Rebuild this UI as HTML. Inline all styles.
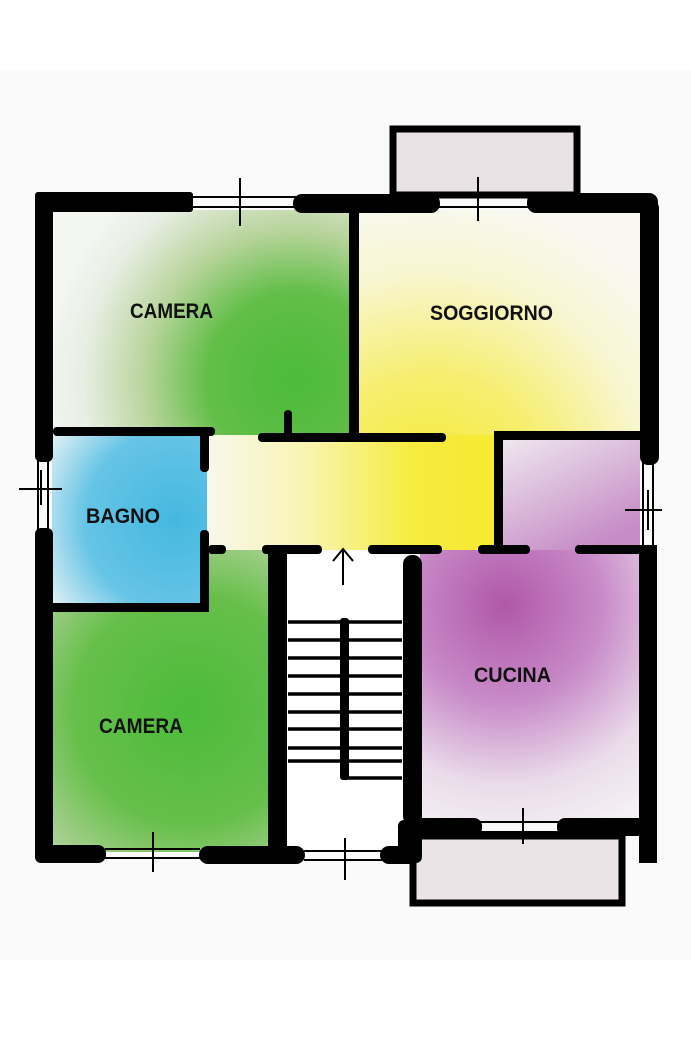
<!DOCTYPE html>
<html><head><meta charset="utf-8"><style>
html,body{margin:0;padding:0;background:#fff}
svg{display:block}
text{font-family:"Liberation Sans Narrow","Liberation Sans",sans-serif;font-weight:bold;font-size:21px;fill:#111}
</style></head><body>
<svg width="691" height="1037" viewBox="0 0 691 1037" xmlns="http://www.w3.org/2000/svg">
<defs>
<radialGradient id="g1" cx="295" cy="380" r="250" gradientUnits="userSpaceOnUse"><stop offset="0" stop-color="#4cbb3a"/><stop offset="0.35" stop-color="#62be48"/><stop offset="0.6" stop-color="#b8d49c"/><stop offset="0.85" stop-color="#e8eee4"/><stop offset="1" stop-color="#f4f6f2"/></radialGradient>
<radialGradient id="g2" cx="430" cy="490" r="290" gradientUnits="userSpaceOnUse"><stop offset="0" stop-color="#f5ea30"/><stop offset="0.4" stop-color="#f6ee70"/><stop offset="0.75" stop-color="#f8f6d0"/><stop offset="1" stop-color="#f8f8f0"/></radialGradient>
<radialGradient id="g3" cx="175" cy="520" r="150" gradientUnits="userSpaceOnUse"><stop offset="0" stop-color="#45b8e0"/><stop offset="0.6" stop-color="#66c4e6"/><stop offset="1" stop-color="#e4f2f4"/></radialGradient>
<radialGradient id="g4" cx="190" cy="710" r="230" gradientUnits="userSpaceOnUse"><stop offset="0" stop-color="#4cbb3a"/><stop offset="0.5" stop-color="#66bf4a"/><stop offset="0.8" stop-color="#a8d090"/><stop offset="1" stop-color="#dce8d4"/></radialGradient>
<radialGradient id="g5" cx="505" cy="605" r="240" gradientUnits="userSpaceOnUse"><stop offset="0" stop-color="#b058a8"/><stop offset="0.4" stop-color="#c88ac8"/><stop offset="0.75" stop-color="#eadcea"/><stop offset="1" stop-color="#f4f0f4"/></radialGradient>
<linearGradient id="g6" x1="0" y1="0" x2="0.6" y2="1"><stop offset="0" stop-color="#f0eaf0"/><stop offset="1" stop-color="#c68cc6"/></linearGradient>
<linearGradient id="g7" x1="0" y1="0" x2="1" y2="0"><stop offset="0" stop-color="#f8f8ee"/><stop offset="0.35" stop-color="#f8f4b0"/><stop offset="0.7" stop-color="#f6ec40"/><stop offset="1" stop-color="#f6e930"/></linearGradient>
</defs>
<rect x="0" y="70" width="691" height="890" fill="#fafafa"/>
<rect x="393" y="129" width="184" height="66" fill="#e8e2e4" stroke="#000" stroke-width="7"/>
<rect x="413" y="836" width="209" height="67" fill="#ebe4e6" stroke="#000" stroke-width="7"/>
<rect x="52" y="210" width="302" height="225" fill="url(#g1)"/>
<rect x="356" y="210" width="286" height="230" fill="url(#g2)"/>
<rect x="205" y="435" width="295" height="115" fill="url(#g7)"/>
<rect x="52" y="435" width="155" height="172" fill="url(#g3)"/>
<rect x="52" y="607" width="220" height="245" fill="url(#g4)"/>
<rect x="205" y="550" width="67" height="60" fill="url(#g4)"/>
<rect x="500" y="436" width="140" height="115" fill="url(#g6)"/>
<rect x="420" y="550" width="220" height="272" fill="url(#g5)"/>
<rect x="287" y="552" width="118" height="300" fill="#fff"/>
<g fill="#000">
<rect x="35" y="192" width="158" height="20" rx="3"/>
<rect x="293" y="194" width="147" height="19" rx="9"/>
<rect x="527" y="193" width="131" height="20" rx="9"/>
<rect x="35" y="192" width="18" height="270" rx="6"/>
<rect x="35" y="528" width="18" height="335" rx="6"/>
<rect x="640" y="200" width="19" height="265" rx="8"/>
<rect x="639" y="545" width="18" height="318"/>
<rect x="349" y="210" width="10" height="232"/>
<rect x="53" y="427" width="162" height="9" rx="4"/>
<rect x="258" y="433" width="188" height="9" rx="4"/>
<rect x="284" y="410" width="8" height="28" rx="4"/>
<rect x="494" y="431" width="150" height="9" rx="4"/>
<rect x="494" y="431" width="9" height="118"/>
<rect x="200" y="430" width="9" height="42" rx="4"/>
<rect x="200" y="530" width="9" height="82" rx="4"/>
<rect x="53" y="603" width="156" height="9"/>
<rect x="208" y="545" width="18" height="9" rx="4"/>
<rect x="262" y="545" width="60" height="9" rx="4"/>
<rect x="368" y="545" width="74" height="9" rx="4"/>
<rect x="478" y="545" width="52" height="9" rx="4"/>
<rect x="575" y="545" width="68" height="9" rx="4"/>
<rect x="268" y="545" width="19" height="318" rx="8"/>
<rect x="403" y="555" width="19" height="270" rx="9"/>
<rect x="398" y="820" width="24" height="43" rx="6"/>
<rect x="35" y="845" width="71" height="18" rx="8"/>
<rect x="199" y="846" width="106" height="18" rx="9"/>
<rect x="380" y="846" width="40" height="18" rx="9"/>
<rect x="405" y="818" width="77" height="18" rx="8"/>
<rect x="557" y="818" width="100" height="18" rx="8"/>
<rect x="340" y="618" width="9" height="162" rx="3"/>
</g>
<g stroke="#000" stroke-width="3.5">
<line x1="288" y1="622" x2="402" y2="622"/><line x1="288" y1="640" x2="402" y2="640"/>
<line x1="288" y1="658" x2="402" y2="658"/><line x1="288" y1="676" x2="402" y2="676"/>
<line x1="288" y1="694" x2="402" y2="694"/><line x1="288" y1="712" x2="402" y2="712"/>
<line x1="288" y1="729" x2="402" y2="729"/><line x1="288" y1="748" x2="402" y2="748"/>
<line x1="288" y1="761" x2="402" y2="761"/><line x1="345" y1="778" x2="402" y2="778"/>
</g>
<g stroke="#000" stroke-width="2" fill="none">
<line x1="190" y1="197" x2="296" y2="197"/><line x1="190" y1="207" x2="296" y2="207"/>
<line x1="240" y1="178" x2="240" y2="226"/>
<line x1="438" y1="197" x2="530" y2="197"/><line x1="438" y1="207" x2="530" y2="207"/>
<line x1="478" y1="177" x2="478" y2="221"/>
<line x1="38" y1="460" x2="38" y2="530"/><line x1="48" y1="460" x2="48" y2="530"/>
<line x1="19" y1="489" x2="62" y2="489"/><line x1="41" y1="470" x2="41" y2="505"/>
<line x1="643" y1="462" x2="643" y2="548"/><line x1="653" y1="462" x2="653" y2="548"/>
<line x1="625" y1="510" x2="662" y2="510"/><line x1="648" y1="490" x2="648" y2="530"/>
<line x1="105" y1="849" x2="200" y2="849"/><line x1="105" y1="858" x2="200" y2="858"/>
<line x1="153" y1="832" x2="153" y2="872"/>
<line x1="304" y1="851" x2="382" y2="851"/><line x1="304" y1="860" x2="382" y2="860"/>
<line x1="345" y1="838" x2="345" y2="880"/>
<line x1="480" y1="822" x2="560" y2="822"/><line x1="480" y1="832" x2="560" y2="832"/>
<line x1="523" y1="808" x2="523" y2="844"/>
<line x1="343" y1="585" x2="343" y2="549"/>
<polyline points="333,561 343,549 353,561"/>
</g>
<text x="130" y="318" textLength="83" lengthAdjust="spacingAndGlyphs">CAMERA</text>
<text x="430" y="320" textLength="123" lengthAdjust="spacingAndGlyphs">SOGGIORNO</text>
<text x="86" y="523" textLength="74" lengthAdjust="spacingAndGlyphs">BAGNO</text>
<text x="99" y="733" textLength="84" lengthAdjust="spacingAndGlyphs">CAMERA</text>
<text x="474" y="682" textLength="77" lengthAdjust="spacingAndGlyphs">CUCINA</text>
</svg>
</body></html>
